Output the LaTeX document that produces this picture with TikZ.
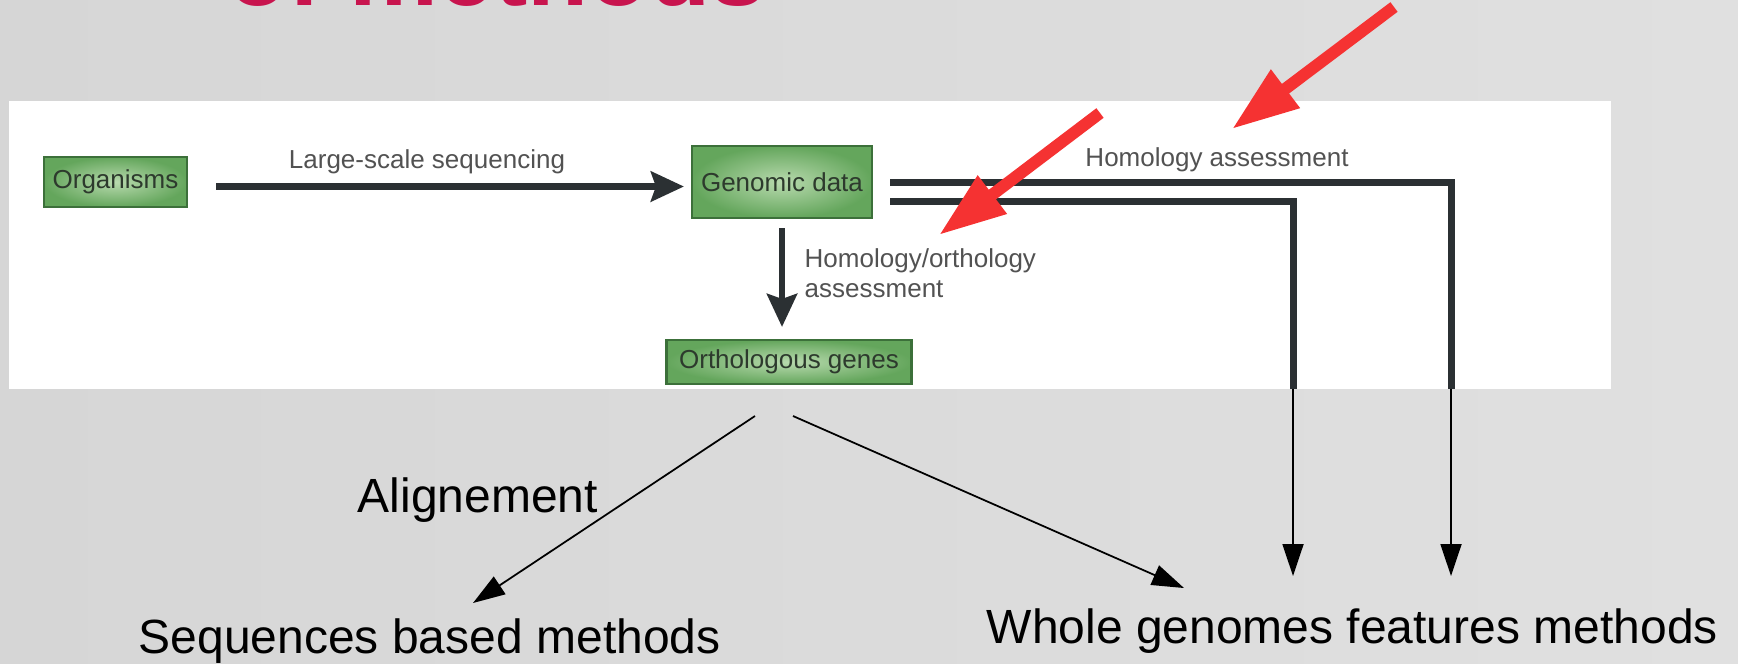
\documentclass[tikz,border=0pt]{standalone}
\usepackage{fontspec}
\setmainfont{Liberation Sans}
\usetikzlibrary{positioning,arrows.meta,calc}
\definecolor{slidered}{RGB}{200,20,78}
\definecolor{redmark}{RGB}{245,50,50}
\definecolor{darkline}{RGB}{43,48,51}
\definecolor{boxin}{RGB}{184,218,174}
\definecolor{boxout}{RGB}{100,166,92}
\definecolor{boxedge}{RGB}{60,112,58}
\definecolor{boxtext}{RGB}{45,58,45}
\definecolor{bgleft}{RGB}{214,214,214}
\definecolor{bgmid}{RGB}{236,236,236}
\definecolor{bgright}{RGB}{224,224,224}

\begin{document}
\begin{tikzpicture}[
    box/.style={rectangle, draw=boxedge, line width=0.6pt, inner color=boxin, outer color=boxout,
        text=boxtext, font=\fontsize{7.4}{8}\selectfont, inner sep=0pt},
    note/.style={text=black!68, font=\fontsize{7.4}{8.5}\selectfont, inner sep=0pt},
    slide/.style={font=\fontsize{13.66}{16}\selectfont, inner sep=0pt, anchor=base west},
    flow/.style={-{Stealth[length=0.33cm,width=0.3cm,inset=0.05cm]}, line width=0.065cm, draw=darkline},
    pipe/.style={line width=0.07cm, draw=darkline},
    lean/.style={-{Triangle[length=0.32cm,width=0.21cm]}, line width=0.5pt},
    pointer/.style={-{Triangle[length=0.67cm,width=0.45cm]}, line width=0.12cm, draw=redmark}]

    % slide background
    \useasboundingbox (0,0) rectangle (17.38,-6.63);
    \clip (0,0) rectangle (17.38,-6.63);
    \shade[left color=bgleft, middle color=bgmid, right color=bgright] (0,0) rectangle (17.38,-6.63);
    \node[anchor=base west, inner sep=0pt, text=slidered, font=\bfseries\fontsize{28.45}{30}\selectfont] (title) at (2.27,-0.05) {of methods};
    \fill[white] (0.09,-1.01) rectangle (16.11,-3.89);

    % pasted figure
    \node[box, minimum width=1.43cm, minimum height=0.5cm] (org) at (1.155,-1.82) {Organisms};
    \node[box, minimum width=1.80cm, minimum height=0.72cm] (gen) at (7.82,-1.82) {Genomic data};
    \node[box, minimum width=2.45cm, minimum height=0.44cm] (ort) at (7.89,-3.62) {Orthologous genes};

    \node[note, anchor=base] (seqlbl) at (4.27,-1.68) {Large-scale sequencing};
    \node[note, anchor=base] (homlbl) at (12.17,-1.66) {Homology assessment};
    \node[note, anchor=west, align=left] (ortlbl) at (8.04,-2.73) {Homology/orthology\\assessment};

    \draw[flow, shorten <=0.28cm, shorten >=0.07cm] ([yshift=-0.045cm]org.east) -- ([yshift=-0.045cm]gen.west);
    \draw[flow, shorten <=0.09cm, shorten >=0.12cm] (gen) -- (gen |- ort.north);

    \coordinate (outA) at (14.51,-3.89);
    \coordinate (outB) at (12.93,-3.89);
    \draw[pipe] ([xshift=0.17cm]gen.east) -| (outA);
    \draw[pipe] ([xshift=0.17cm,yshift=-0.19cm]gen.east) -| (outB);

    % methods
    \node[slide] (align) at (3.57,-5.12) {Alignement};
    \node[slide] (seq) at (1.38,-6.53) {Sequences based methods};
    \node[slide] (whole) at (9.86,-6.43) {Whole genomes features methods};

    \coordinate (fromL) at (7.55,-4.16);
    \coordinate (fromR) at (7.93,-4.16);
    \coordinate (toL) at (4.73,-6.03);
    \coordinate (toR) at (11.84,-5.88);
    \coordinate (toA) at (14.51,-5.76);
    \coordinate (toB) at (12.93,-5.76);
    \draw[lean] (fromL) -- (toL);
    \draw[lean] (fromR) -- (toR);
    \draw[lean] (outB) -- (toB);
    \draw[lean] (outA) -- (toA);

    % red pointers
    \coordinate (redA) at (11.00,-1.13);
    \coordinate (tipA) at (9.39,-2.35);
    \coordinate (redB) at (13.94,-0.07);
    \coordinate (tipB) at (12.32,-1.29);
    \draw[pointer] (redA) -- (tipA);
    \draw[pointer] (redB) -- (tipB);
\end{tikzpicture}
\end{document}
